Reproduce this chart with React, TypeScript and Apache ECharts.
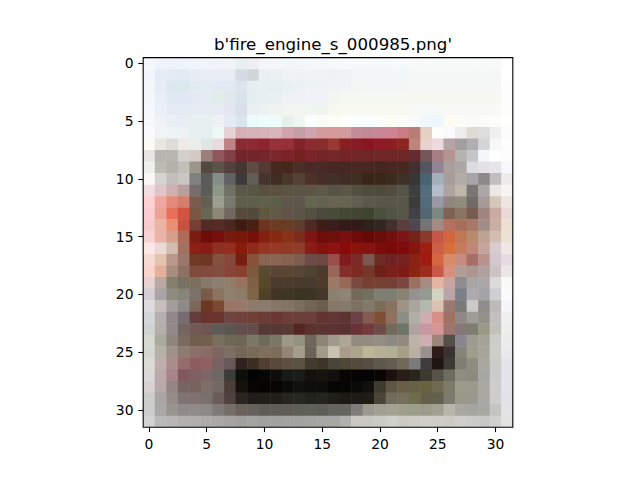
import React, { useEffect, useRef } from "react";
import * as echarts from "echarts";

const titleText = "b'fire_engine_s_000985.png'";
const indexLabels = Array.from({ length: 32 }, (_, i) => String(i));
const tickStep = 5;

const row00 = "f4f8fd eef3fc eef3fc eef3fc f0f4fb f0f4fb f0f4fa f0f3f8 eaedf2 eceef2 f3f7fb f3f7fb f3f6f9 f3f6f9 f4f7f9 f5f8fa f5f9f9 f5f9f9 f5f9f9 f5f9f9 f5f9f9 f5f9f9 f5f9f9 f7f9f9 f7f9f9 f7f9f9 f7f9f9 f7f9f9 f7f9f9 f7f9f9 f7f9f9 fefefe".split(" ");
const row01 = "f2f6fc e6ecf6 e3ebf5 e2eaf4 e8edf4 e9edf4 e9edf5 e8edf4 d3dbe4 cfd6d8 e9eff2 eaf0f3 eef3f5 eef2f4 eff3f5 f0f3f5 eef2f3 eff3f4 f3f6f6 f3f6f6 f3f6f6 f3f6f6 f3f6f6 f5f7f7 f5f7f7 f5f7f7 f5f7f7 f5f7f7 f5f7f7 f5f7f7 f5f7f7 fefefe".split(" ");
const row02 = "f3f7fc e6edf6 dbe9ef dce8ef e2eaf2 e3ebf3 e3eaf3 e2e9f2 dde4ee e6eef2 e6eff2 e6eef2 e9f0f3 ecf1f3 eef2f4 eef2f4 f0f2f6 f1f3f6 f4f6f6 f4f6f6 f4f6f6 f4f6f6 f4f6f6 f6f7f7 f6f7f7 f6f7f7 f6f7f7 f6f7f7 f6f7f7 f6f7f7 f6f7f7 fdfdfd".split(" ");
const row03 = "f3f7fc e8eef7 e0e9f2 e1e7f4 e3e8f5 e2ecf1 dfece9 e0eaeb d8e3ea e5eef1 e8eff2 e9eff2 eef2f5 eff1f6 f0f2f8 f1f2f8 f2f6f0 f4f7f2 f4f8f2 f5f9f3 f5f8f3 f5f8f3 f8f8f3 f8f8f3 f8f8f3 f8f8f3 f8f8f3 f8f8f3 f8f8f3 f8f8f3 f8f8f3 fdfdfd".split(" ");
const row04 = "f5f8fc ebf0f7 e4ebf4 e5ebf3 e6ecf3 e6ecf2 e8ebf3 e3e5f0 dadfeb e9eff2 ebf2f0 eef3ef f2f4ee f2f4ee f0f5ef eef5ee f7f9ef f8faf0 f8f9f1 f8f9f1 f8f9f1 f8f9f1 f8f9f1 f6f8f4 f6f9f7 f7f9f8 f8f9f6 f8f9f6 f8f9f6 f8f9f6 f8f9f6 fdfdfc".split(" ");
const row05 = "f6f9fc eff3f8 e9eef5 e8edf5 e7eff1 e7eff1 edf1f6 e4eaf4 d9e5ed edfafc eefcfc eefbfa e8f0ec edf6f0 fbfefd fafcf7 fcfdf5 fefefa f8fdfd fafdfd fbfdfc fbfcf6 fbfcf7 f6fafa f0f6fa eef5fb fcfcf5 fcfcf7 fafaf7 fbfbfa fdfdfc ffffff".split(" ");
const row06 = "f9fbfc f1f4f5 eef4f6 eef2f4 e8eff0 e3eff0 ecfaf6 e5d2d4 d6aeb5 d8b2b9 d8b3b9 dab6b9 d1a4ad c69ea5 d0a5ad d49b9c d59a9b d29c9e c48b9a c08994 c78693 cd8390 c97c83 b97d78 e6cfc3 fffefa f8fbfd eeeeec dedbd5 dedddd efefef fcfcfc".split(" ");
const row07 = "fbfaf5 e7e8e2 dcdcd8 ecebe7 eaefec dfe6e4 e8dade be8284 8a2a32 8d2a33 8d2430 983139 953036 832329 8b2a30 8a2e2b 9a3833 8a1f22 881a25 8a1421 8f1924 8c1d22 8a2521 bd857a e8d0cd eed9df b6a3a5 a19e9d afaeb0 d5d5d8 f8f8f8 fdfdfd".split(" ");
const row08 = "e6e6e3 b6b5af b8b5af d4d1cc d4c9c3 9a7f7a 8f585a 834147 72252a 722429 76262b 7b282c 7b2328 74211f 7d2428 722527 752828 742427 702526 702626 6e2627 6e2626 6e2726 652b30 755659 a57f84 b39490 b6b2af c4c7ca f6f7fa ffffff fdfdfd".split(" ");
const row09 = "f0f1ee bbbcb4 b4b0aa c2bfb8 9a978a 54493f 5e534b 533f3b 463632 5e4a43 553a33 47281f 46281b 4b2f26 4a2827 4a2a27 472623 482722 482820 47271f 45261e 47271f 47271f 433033 555461 918593 ab9f9d aba7a6 dcdbdd e3e2e3 e6e6e9 f8f7fb".split(" ");
const row10 = "faf8f4 d3d3cf c3bebb cac6c3 818280 595b59 868c87 5e6262 3c3b39 635b55 45352d 3f2c22 483829 544236 4c312a 462e27 42302a 3e2c25 3e2d21 382517 3a2718 3b2a1e 3f3125 383737 486470 a5b0bd a79d9a b1aca6 a8a5a8 8b8888 c0bcbf eeece8".split(" ");
const row11 = "f1dde0 e0c4c6 cfb0ae b8a09c 766e6c 5c5d58 8e9686 707163 5a5848 575543 595040 5c5141 5b5444 5a5444 5c5546 5d5847 575445 5b5646 535042 4f4a3e 4d493c 504c3e 565446 3e3f40 526e7c b5bdcc b0a39d bdb8a8 7a7474 ada6a4 ebe7e4 f6f5f1".split(" ");
const row12 = "fed1d3 f1a7a1 e4897a d67e6e 7b5b4f 606052 9c9f8f 777a6c 5e5e4e 5d5f4c 5f614a 5d5e47 5f574b 5e564a 646650 626152 68644f 666350 625f50 5d594a 5a5648 595648 595648 3b3b3c 536a7a 9898a7 928680 918d7d 736a68 a49b98 d6c7bb f1e5e2".split(" ");
const row13 = "fbcdd2 eca295 e86f59 d45240 7a5745 686657 8e8677 736860 564a3d 544a3b 61573f 625a44 615448 5d5548 54503f 4b4a3c 474b3a 444734 424531 3f442f 4a503d 4f5443 575649 414046 536773 7b8883 7e6253 8a7562 7a5b52 a0867e c9aba3 ebd9d8".split(" ");
const row14 = "f8cccd ecb4a2 e88f74 c7513f 763f34 542a24 562b25 4c2620 3d1c12 4a2014 6d3520 6b3b22 693d23 5f3d2e 502826 3f1e18 3a1d1c 341919 321a18 2e221c 302720 432f2b 5b3d3e 4f4652 737475 a48a84 b4715f a76e5c a87868 a48c86 c9aea6 eddfd2".split(" ");
const row15 = "f8d3d3 ebb3a8 d6a08e b06c5a 7a1c11 6d0d0a 760f0c 781a0e 77180c 770f09 84210e 862812 8a3218 7c2c1c 7d1512 6e0d0c 6f100c 77100e 700b0b 650807 6a0d0b 730f0f 7c1515 732318 8a392c c6584a d0653f be7954 b88b6e bfa293 d1c0b2 ebe2d6".split(" ");
const row16 = "fde8e6 ecd8d5 d1bcaf a5705f 8b2014 891d13 8c3024 962d1e 891b0c 8e2a1a 973424 973827 8f3b27 8f3e2b 891c17 84130f 8c1312 8b0b09 8a120c 86130f 7d0d0b 7c0909 7f0a0a 85150f 9e1e11 cc5f45 d56f3b c77a5c c08779 c5a49e d8ccd1 f1e7e7".split(" ");
const row17 = "f7dbd2 e6c2b0 b8998a 9a766b 6e3a26 6b3723 84513e 864837 781f12 8a5138 8a6453 8a6454 85634f 7e5d4e 6d4b48 6b4842 9a4d4c 811c1e 7c2a25 7c5750 6c2b25 6f2324 762223 8c2211 a01c11 d5663f d88c6c c68c7f a66e66 b9928d d3c8ce e6dbdf".split(" ");
const row18 = "fbd5cc e4b09a a88d7c 8e7165 7d4a3c 83493d 814d3f 884535 8b3f2e 7b5a3e 594b31 5a4434 5b4634 594535 4f4230 4c3b2a 98675a 83302a 7c2c22 743728 6b2117 7a1f19 7d1c17 8a2512 9c2d1d c9574a d68f7d b19d97 ae9690 b1a09d cbc3c4 ebe7e7".split(" ");
const row19 = "e6d3d2 b9a8a3 847e6c 787061 7c6f5d 857a6c 8a7f72 917e68 96735c 806044 58492b 4b3a2d 4b3c2c 4a3a2c 473a2e 4f3b2c 9c7a67 976855 7a4a3e 773f32 753f34 753f34 7e4640 997062 a68c82 e3b5a2 c8a5a2 8f8d91 a9a4a6 aba7a8 dcdbdc f9f9f7".split(" ");
const row20 = "d4cfd3 aaa4a6 8f8b81 878479 7c706b 7b5a49 8b735f 8e826c 8d7d68 7e6345 4f4128 433526 403422 3b3423 3c3425 453629 8b8171 8e8575 756a58 747061 7f8074 7f8075 878370 969090 929a92 d3d3c2 b9a5a7 7d7f88 ada9ad a4a4a7 cfcfd3 fbfbfe".split(" ");
const row21 = "dddbdd c6bfbe a39d9b 8e8a88 7e6659 6c3822 7c4a33 9a7563 98776b 8e7a6b 8c7c6d 877667 837563 7c6e5f 716453 6b5e4f 857866 867a6c 7c7262 817a68 7c6d59 877360 9e9486 a7a59c b4b7ad dac1b2 997a72 7a7a79 cbcac6 8f8d8d bbbab9 f6f6fa".split(" ");
const row22 = "d5d5da b5afb0 908889 766c71 643e3c 6a332e 6a342e 6e4541 6f423e 6f3f39 6d3c37 6b3733 6e3d38 6d3f3b 6d3e3b 63342f 623635 5e3431 6c4145 855a52 7f4f33 8f7160 8d8e85 b1aea8 cdadb0 d79087 9f7064 8f8984 a09d98 929189 c2c1bf f0f0f0".split(" ");
const row23 = "d1d3d2 b3b0ab 918a88 756460 735a57 6e5453 605a57 5d5650 624e4d 624f4a 563935 553733 583a34 53271f 5a322e 5a3431 5c3232 593131 6a3136 723b3c 6f4b46 73695c 6f7566 aea2a2 c798a1 d59696 9b756e 877777 7e7c70 9a9986 c2c2bd eeeeec".split(" ");
const row24 = "d8d9d3 acaa9d 8e867b 7b6a5f 725e4d 72604f 78705c 6e6856 6e6654 7a7867 6d6c5b 7a7764 9c9988 959180 6f675c 8c8577 9f9a89 aea798 938c7e 928b80 958e85 8c8983 908a7f bdb3a9 cfb0b2 9b8679 544e4b 888590 9d9b91 a4a499 cdcdc9 ebecec".split(" ");
const row25 = "d7d7d0 b6b1a8 9f9188 8d7b72 8c6f67 8a6c65 806660 7c6f62 766657 796a58 7e6e5c 7b6c5a 938576 a69c8b 6c6356 a19c8a c8c1b0 aa9c8b aba38d bfb597 b5af94 b2ad96 a59f87 b9afa3 9b9290 2e1a17 3c3131 858479 9e9e8d a5a59a cdcdca e8eaed".split(" ");
const row26 = "dcdcd6 bfaeaa a98c8c 966b6c 8e5d60 8f6163 7a6163 67585a 30231f 3a2d22 503f31 5a4938 5d4f42 5a5145 433b31 3d3528 4a453a 4e4838 544b3c 564f45 5d574c 635d50 6f6858 7b7b7b 3f3b3f 1f1410 3c3b31 7e7e72 8e8e80 a8a8a0 cbcbc8 e5e5e9".split(" ");
const row27 = "dcd7d8 bba9ab a78485 7e585a 805f62 7a6766 6e6565 3c3c3a 0d0f0a 020202 060705 0d0d0b 181a15 1b1b17 14110d 17130f 11100c 070604 060303 050303 090505 1b110f 281d18 28261c 3a3a2e 565346 6c6d5e 8d8d81 8b8b80 a7a7a1 cbcbcc e3e5ea".split(" ");
const row28 = "d8d2d3 b7aaa8 948681 766560 776460 7e6e68 756964 4d3e3a 16110c 080604 050403 060503 0b0b08 111210 0e0f0c 0d0e0b 050503 060604 0a0a07 10110c 3e3b2e 5e5744 6a5e47 6a6045 69623f 6f694f 7e7a68 9c9a88 9a998b a9a9a1 cdcdcb e3e5ea".split(" ");
const row29 = "cdcdcb a9a6a3 958c8b 7f7473 807270 7b706d 6a5c5a 51413e 2c2421 201c19 211e1a 201d19 252420 272722 22221c 23241d 1f1e17 1b1a14 1d1b16 1e1c15 4a4438 706c5c 74705c 6d6d4a 635f48 646050 7c7a6c 9b9889 999990 a8a8a4 cdcdce e2e3e8".split(" ");
const row30 = "cdcdcd a9a9a7 99948f 908a88 908b88 8b8885 7f7a77 746e69 6a625b 66625b 5e5c56 5e5c56 5e5d56 5e5f57 5f6159 5d5f55 636560 64665e 7d7c7a 9c9a90 a09f91 a4a393 9f9f8c 9d9d8b 9b9a8b a39f93 b7b6ab a8a8a1 a5a5a0 a8a8a3 c4c4c3 e2e4e5".split(" ");
const row31 = "d2d2d3 b9b9b9 b7b5b5 b2b0af b1afac adaba8 a9a8a5 a5a4a2 a0a09d a4a4a0 a1a19e a1a19e a3a49f a2a39f a4a5a0 a6a7a2 a6a8a3 b0b1ad c9c8c4 c8c7c2 cbcbc6 d0d1cc cbcbc4 cdcdc6 d0cec8 cfccc6 cbcac4 cfcecb cbcbca c8c8c6 d1d1cf e1e5e0".split(" ");

const pixelRows = [
  row00, row01, row02, row03, row04, row05, row06, row07,
  row08, row09, row10, row11, row12, row13, row14, row15,
  row16, row17, row18, row19, row20, row21, row22, row23,
  row24, row25, row26, row27, row28, row29, row30, row31,
];

export default function App() {
  const ref = useRef<HTMLDivElement>(null);

  useEffect(() => {
    document.body.style.margin = "0";
    if (!ref.current) return;
    const chart = echarts.init(ref.current, null, { renderer: "svg" });

    const cells: number[][] = [];
    pixelRows.forEach((row, r) => {
      row.forEach((_, c) => cells.push([c, r]));
    });

    const showTick = (i: number) => i % tickStep === 0;
    const font = "DejaVu Sans";

    chart.setOption({
      animation: false,
      backgroundColor: "#ffffff",
      title: {
        text: titleText,
        left: 328,
        textAlign: "center",
        top: 31,
        textStyle: {
          fontFamily: font,
          fontSize: 16.67,
          fontWeight: "normal",
          color: "#000000",
        },
      },
      grid: {
        left: 143.2,
        top: 57.6,
        width: 369.6,
        height: 369.6,
        show: true,
        z: 10,
        borderColor: "#000000",
        borderWidth: 1.1,
        backgroundColor: "transparent",
      },
      xAxis: {
        type: "category",
        data: indexLabels,
        boundaryGap: true,
        axisLine: { show: false },
        splitLine: { show: false },
        axisTick: {
          show: true,
          alignWithLabel: true,
          interval: showTick,
          length: 4.9,
          lineStyle: { color: "#000000", width: 1.1 },
        },
        axisLabel: {
          interval: showTick,
          margin: 9.7,
          fontFamily: font,
          fontSize: 13.89,
          color: "#000000",
        },
      },
      yAxis: {
        type: "category",
        data: indexLabels,
        inverse: true,
        boundaryGap: true,
        axisLine: { show: false },
        splitLine: { show: false },
        axisTick: {
          show: true,
          alignWithLabel: true,
          interval: showTick,
          length: 4.9,
          lineStyle: { color: "#000000", width: 1.1 },
        },
        axisLabel: {
          interval: showTick,
          margin: 9.7,
          fontFamily: font,
          fontSize: 13.89,
          color: "#000000",
        },
      },
      series: [
        {
          type: "custom",
          clip: true,
          data: cells,
          renderItem: (params: any, api: any) => {
            const c = api.value(0);
            const r = api.value(1);
            const p = api.coord([c, r]);
            const s = api.size([1, 1]);
            const color = "#" + pixelRows[r][c];
            return {
              type: "rect",
              shape: {
                x: p[0] - s[0] / 2,
                y: p[1] - s[1] / 2,
                width: s[0] + 0.5,
                height: s[1] + 0.5,
              },
              style: { fill: color, stroke: null },
            };
          },
        },
      ],
    });

    return () => chart.dispose();
  }, []);

  return <div ref={ref} style={{ width: 640, height: 480 }} />;
}
